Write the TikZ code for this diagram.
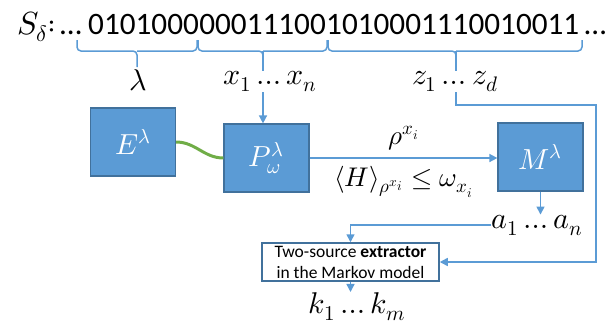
\documentclass[tikz,border=0pt]{standalone}
\usepackage{fontspec}
\usepackage{unicode-math}
\setmainfont{Carlito}
\setmathfont{Latin Modern Math}
\usetikzlibrary{arrows.meta}

\definecolor{boxblue}{HTML}{5B9BD5}
\definecolor{boxedge}{HTML}{41719C}
\definecolor{linkgreen}{HTML}{70AD47}

\tikzset{
  bits/.style={font=\fontsize{31.2}{36}\selectfont, inner sep=0pt, anchor=base west},
  biglabel/.style={font=\fontsize{30}{36}\selectfont, inner sep=0pt, fill=white, anchor=base},
  box/.style={draw=boxedge, fill=boxblue, line width=1.2pt, minimum width=85pt,
    minimum height=68pt, text=white, font=\fontsize{29}{32}\selectfont},
  extbox/.style={draw=boxedge, line width=1.5pt, minimum width=177pt, minimum height=38pt,
    align=center, inner sep=0pt, font=\fontsize{17.5}{21}\selectfont},
  link/.style={boxblue, line width=1.5pt, -{Triangle[length=8pt,width=8pt]}},
  braceline/.style={boxblue, line width=1.5pt, rounded corners=4pt},
  arrowlabel/.style={text=black, font=\fontsize{27}{30}\selectfont, inner sep=0pt}
}

\begin{document}
\begin{tikzpicture}[x=1pt, y=1pt]
  \useasboundingbox (0,0) rectangle (608,-325);

  % Source string
  \node[font=\fontsize{32}{36}\selectfont, inner sep=0pt, anchor=base east] (S) at (57,-34) {$S_\delta{:}$};
  \node[bits] (dl) at (60,-34) {…};
  \node[bits] (g1) at (88,-34) {0101000};
  \node[bits] (g2) at (g1.base east) {00011100};
  \node[bits] (g3) at (g2.base east) {1010001110010011};
  \node[bits] (dr) at ([xshift=5pt]g3.base east) {…};

  % Braces under the three parts
  \draw[braceline] (77,-40) |- (137,-51) -- (137,-67) (137,-51) -| (197,-40);
  \draw[braceline] (198,-40) |- (263,-51) coordinate (xb) -- (263,-62) (263,-51) -| (327,-40);
  \draw[braceline] (328,-40) |- (456,-51) coordinate (zb) -- (456,-62) (456,-51) -| (582,-40);

  % Devices
  \node[box] (E) at (133,-142) {$E^\lambda$};
  \node[box] (P) at (266.5,-158) {$P^\lambda_\omega$};
  \node[box] (M) at (540.5,-157) {$M^\lambda$};
  \node[extbox] (ext) at (350.5,-262) {Two-source \textbf{extractor}\\in the Markov model};

  \node[biglabel] (a) at (537,-228) {$a_1 \ldots a_n$};
  \node[biglabel] (k) at (357,-313) {$k_1 \ldots k_m$};

  % Connections
  \draw[linkgreen, line width=3pt] (E.east) to[out=0, in=180] (P.west);
  \draw[link] (xb) -- (xb |- P.north);
  \draw[link] (P.east) -- (P.east -| M.west)
    node[arrowlabel, midway, above=7pt] {$\rho^{x_i}$}
    node[arrowlabel, midway, below=7pt] {$\langle H\rangle_{\rho^{x_i}} \le \omega_{x_i}$};
  \draw[link] (M.south) -- (M.south |- a.north);
  \draw[link] (a.west) -| (ext.north);
  \draw[link] (zb) |- (596,-105) |- (ext.east);
  \draw[link] (ext.south) -- (ext.south |- k.north);

  % Labels of the parts
  \node[biglabel] (lam) at (138,-90) {$\lambda$};
  \node[biglabel] (xs) at (270,-84) {$x_1 \ldots x_n$};
  \node[biglabel] (zs) at (455,-84) {$z_1 \ldots z_d$};
\end{tikzpicture}
\end{document}
